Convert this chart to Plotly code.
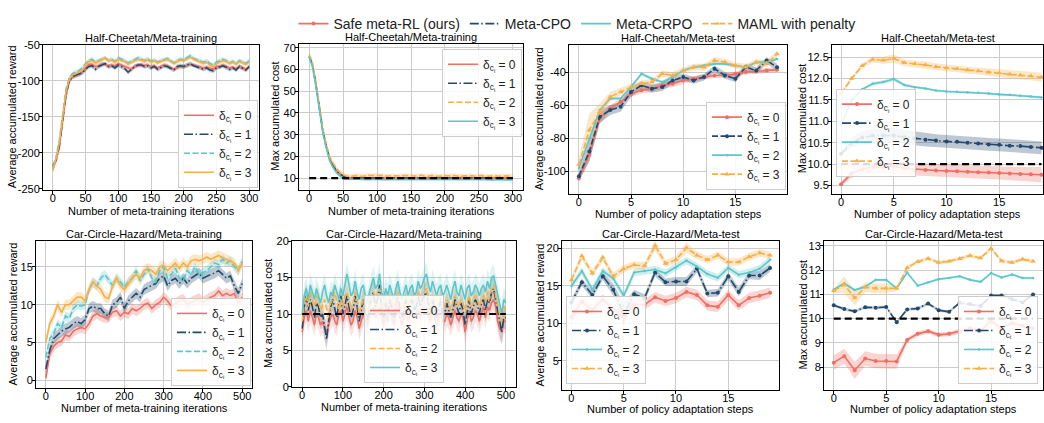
import plotly.graph_objects as go

W, H = 1044, 423
FONT = "Liberation Sans, Arial, sans-serif"

RED = "#EF6F63"
BLUE = "#234A6E"
TEAL = "#5CC6CA"
ORANGE = "#F5B04A"

DASH = "6px,2.5px"
DASHDOT = "9px,2.5px,1.5px,2.5px"

ALGOS = ["Safe meta-RL (ours)", "Meta-CPO", "Meta-CRPO", "MAML with penalty"]
DELTA_LABELS = ["δ<sub>c<sub>i</sub></sub> = 0", "δ<sub>c<sub>i</sub></sub> = 1",
                "δ<sub>c<sub>i</sub></sub> = 2", "δ<sub>c<sub>i</sub></sub> = 3"]
COST_LIMIT = 10

# ---------------- Half-Cheetah / Meta-training (x: 0..300 step 5) ----------------
hc_train_iters = list(range(0, 301, 5))
hc_train_rew_safe = [-222, -211, -192, -157, -122, -101, -95, -93, -91, -88,
                     -82, -77, -77, -80, -79, -76, -77, -80, -78, -79,
                     -76, -78, -80, -82, -84, -80, -79, -77, -79, -78,
                     -80, -79, -82, -80, -78, -79, -81, -84, -82, -80,
                     -81, -79, -77, -78, -79, -80, -82, -81, -83, -84,
                     -80, -81, -78, -80, -82, -81, -83, -80, -82, -84,
                     -81]
hc_train_rew_cpo = [-218, -210, -190, -155, -120, -100, -94, -92, -91, -89,
                    -84, -80, -79, -84, -80, -78, -76, -80, -79, -82,
                    -78, -80, -83, -88, -84, -80, -78, -78, -80, -79,
                    -82, -80, -84, -81, -79, -80, -82, -85, -80, -79,
                    -80, -78, -76, -79, -80, -82, -84, -82, -85, -86,
                    -82, -80, -79, -81, -84, -82, -85, -80, -83, -85,
                    -80]
hc_train_rew_crpo = [-220, -206, -182, -145, -112, -96, -90, -88, -86, -82,
                     -76, -72, -70, -74, -72, -70, -68, -72, -70, -73,
                     -68, -70, -72, -75, -73, -70, -68, -70, -72, -69,
                     -73, -71, -74, -72, -70, -69, -72, -75, -72, -70,
                     -71, -68, -65, -69, -71, -72, -74, -72, -76, -78,
                     -74, -72, -70, -72, -75, -73, -76, -72, -74, -76,
                     -72]
hc_train_rew_maml = [-225, -208, -186, -150, -116, -98, -92, -90, -88, -85,
                     -78, -73, -72, -75, -73, -71, -68, -72, -71, -74,
                     -70, -72, -73, -77, -75, -72, -70, -71, -73, -71,
                     -74, -72, -75, -73, -71, -70, -73, -76, -73, -71,
                     -72, -70, -67, -70, -72, -74, -76, -74, -78, -80,
                     -76, -74, -72, -73, -76, -74, -77, -73, -75, -77,
                     -74]
hc_train_rew_std = [3, 3, 3, 3]

hc_train_cost_safe = [66, 62, 53, 42, 32, 25, 19, 16, 13.5, 12,
                      11, 10.3, 10, 10.2, 10.1, 9.9, 10.2, 10, 9.8, 10,
                      10.2, 10.1, 9.9, 10, 10.2, 10.1, 9.8, 9.9, 10.1, 10,
                      9.9, 10.2, 10, 9.8, 10, 10.1, 9.9, 10, 10.2, 10,
                      9.9, 10.1, 10, 9.8, 10, 10.1, 9.9, 10, 10.2, 9.9,
                      10, 9.8, 9.9, 10.1, 10, 9.9, 10, 10.1, 9.9, 10,
                      10]
hc_train_cost_cpo = [66, 62, 53, 42, 32, 25, 19, 16, 13.3, 11.8,
                     10.8, 10.2, 10, 10, 10.1, 10, 10.2, 10, 9.9, 10,
                     10.1, 10.2, 10, 10.1, 10.2, 10, 9.9, 10, 10.1, 10,
                     10, 10.1, 10.2, 10, 10, 10.1, 10, 10.1, 10.2, 10,
                     10, 10.1, 10, 9.9, 10, 10.1, 10, 10, 10.1, 10,
                     10, 9.9, 10, 10.1, 10, 10, 10, 10.1, 10, 10,
                     10]
hc_train_cost_maml = [67, 63, 54, 43, 33, 26, 20, 17, 14.5, 12.8,
                      11.5, 11, 10.8, 11, 11.2, 11, 10.9, 11.3, 11.2, 11,
                      11.2, 11.3, 11, 10.9, 11.1, 11, 10.8, 11, 11.2, 11,
                      11.1, 11, 11.2, 11.3, 11, 10.9, 11.2, 11, 10.8, 11,
                      11.1, 10.9, 11, 11.2, 10.9, 11, 10.8, 11, 11.1, 10.9,
                      11, 11.2, 10.8, 11, 10.9, 11, 10.8, 11, 11.1, 10.9,
                      11]
hc_train_cost_crpo = [66, 61, 52, 41, 31, 24, 18, 15, 12.5, 11,
                      9.8, 9.5, 9.4, 9.5, 9.6, 9.4, 9.5, 9.3, 9.4, 9.5,
                      9.6, 9.4, 9.3, 9.5, 9.4, 9.5, 9.4, 9.3, 9.5, 9.4,
                      9.4, 9.5, 9.3, 9.4, 9.5, 9.4, 9.3, 9.4, 9.5, 9.4,
                      9.3, 9.4, 9.5, 9.4, 9.3, 9.4, 9.5, 9.4, 9.3, 9.2,
                      9.4, 9.5, 9.3, 9.4, 9.2, 9.3, 9.4, 9.3, 9.2, 9.3,
                      9.3]
hc_train_cost_std = [0.8, 0.5, 1.0, 0.5]

# ---------------- Half-Cheetah / Meta-test (x: 0..19) ----------------
adapt_steps = list(range(20))
hc_test_rew_safe = [-104.3, -90, -68, -62, -58, -53, -51, -50, -48, -47, -45, -44, -43, -42, -42, -41, -40, -39.5, -39, -38.5]
hc_test_rew_cpo = [-103, -88, -67, -63, -61, -52, -48, -50, -49, -45, -43, -45, -43, -38, -42, -44, -37, -39, -33, -37]
hc_test_rew_crpo = [-98, -80, -63, -56, -56, -49, -41, -44, -46, -43, -39, -37, -36, -35, -35, -36, -37, -34, -34, -32]
hc_test_rew_maml = [-96, -75, -64, -55, -52, -49, -47, -46, -41, -42, -39, -37, -37, -33, -34, -36, -37, -34, -35, -29]
hc_test_rew_std_safe = [2, 4, 3, 2, 2, 2, 2, 2, 2, 2, 2, 1.5, 1.5, 1.5, 1.5, 1.5, 1.5, 1.5, 1.5, 1.5]
hc_test_rew_std_cpo = [3, 6, 4, 3, 3, 3, 2.5, 2.5, 2.5, 2, 2, 2, 2, 2, 2, 2, 2, 2, 2, 2]
hc_test_rew_std_crpo = [1, 2, 1, 1, 1, 1, 1, 1, 1, 1, 1, 1, 1, 1, 1, 1, 1, 1, 1, 1]
hc_test_rew_std_maml = [4, 10, 5, 3, 2.5, 2, 2, 2, 2, 2, 2, 2, 2, 2, 2, 2, 2, 2, 2, 2]

hc_test_cost_safe = [9.53, 9.78, 9.88, 9.93, 9.93, 9.95, 9.9, 9.88, 9.86, 9.85, 9.84, 9.83, 9.82, 9.81, 9.8, 9.79, 9.78, 9.77, 9.76, 9.75]
hc_test_cost_cpo = [10.24, 10.5, 10.62, 10.66, 10.67, 10.67, 10.63, 10.6, 10.57, 10.55, 10.53, 10.52, 10.5, 10.48, 10.46, 10.45, 10.43, 10.42, 10.4, 10.38]
hc_test_cost_crpo = [10.9, 11.5, 11.75, 11.88, 11.92, 11.99, 11.85, 11.8, 11.77, 11.72, 11.7, 11.69, 11.68, 11.67, 11.65, 11.63, 11.62, 11.6, 11.58, 11.56]
hc_test_cost_maml = [11.65, 12.0, 12.3, 12.45, 12.43, 12.47, 12.37, 12.35, 12.32, 12.28, 12.25, 12.23, 12.2, 12.18, 12.15, 12.13, 12.1, 12.08, 12.06, 12.03]
hc_test_cost_std_safe = [0.05, 0.1, 0.12, 0.15, 0.15, 0.17, 0.15, 0.15, 0.15, 0.15, 0.15, 0.15, 0.15, 0.15, 0.15, 0.15, 0.16, 0.16, 0.17, 0.18]
hc_test_cost_std_cpo = [0.03, 0.12, 0.15, 0.17, 0.17, 0.18, 0.17, 0.16, 0.16, 0.15, 0.15, 0.15, 0.15, 0.15, 0.15, 0.15, 0.15, 0.15, 0.15, 0.15]
hc_test_cost_std_crpo = [0.03, 0.03, 0.03, 0.04, 0.04, 0.05, 0.04, 0.03, 0.03, 0.03, 0.03, 0.03, 0.03, 0.03, 0.03, 0.03, 0.03, 0.03, 0.03, 0.03]
hc_test_cost_std_maml = [0.05, 0.05, 0.06, 0.07, 0.08, 0.1, 0.08, 0.08, 0.08, 0.08, 0.08, 0.08, 0.08, 0.08, 0.09, 0.09, 0.09, 0.1, 0.1, 0.11]

# ---------------- Car-Circle-Hazard / Meta-training ----------------
cc_train_iters = list(range(0, 501, 10))
cc_train_rew_safe = [0.3, 3.5, 4.5, 5, 5.2, 6, 5.8, 6.5, 6.8, 7,
                     6.8, 7.5, 8.5, 8.8, 8.5, 8.3, 8.3, 9, 9.2, 8.5,
                     9, 8.8, 9.5, 9.2, 9.5, 10, 10.2, 9.5, 10, 10.3,
                     11, 10.5, 9.8, 10.2, 10.5, 10.7, 10, 10.3, 10.5, 10.8,
                     10.3, 10.7, 11, 11.2, 11.8, 11.2, 11.5, 11.2, 11.5, 10.2,
                     11]
cc_train_rew_cpo = [1.5, 4, 5.5, 6, 6.5, 6.8, 7, 7.5, 7.8, 7.5,
                    8, 9.5, 9.8, 9.5, 9.5, 8.8, 8.5, 10, 10.3, 11,
                    9.5, 10.5, 11, 11.5, 11, 12, 12.3, 12.5, 12.8, 13.5,
                    13.8, 12.5, 13.2, 13.5, 12.8, 13.5, 12.8, 13.5, 13.8, 14.2,
                    13.5, 13.8, 14, 14.2, 14.5, 14, 13.5, 13.8, 12.5, 11.5,
                    12.8]
cc_train_rew_crpo = [3, 5.5, 6.2, 7.5, 7, 8.5, 8.2, 9.5, 10, 9.8,
                     10, 12, 13, 12.5, 13.5, 14, 13.3, 12.5, 13.5, 13,
                     12.3, 13, 13.5, 14.5, 13.2, 14, 14.8, 13.5, 13, 14.5,
                     15, 13.5, 14, 14.8, 13.5, 13.2, 14.5, 14, 15, 14,
                     14.2, 14.5, 15, 15.5, 15.3, 16, 15.5, 15.8, 15, 14.5,
                     15.7]
cc_train_rew_maml = [5, 7.5, 8.5, 10, 9, 10, 10, 10.5, 11, 11,
                     10.5, 12, 13, 12.5, 12, 11, 10.8, 12.5, 13.5, 12.5,
                     12, 12.8, 13.5, 14, 13.5, 14.5, 14.8, 14.5, 14, 15,
                     15.2, 14.5, 15, 15.5, 14.8, 15.5, 15, 15.8, 16, 15.8,
                     16, 16.3, 16, 16.3, 16.5, 16.2, 16, 15.8, 15.5, 14.5,
                     15.5]
cc_train_rew_std = [0.7, 0.7, 0.6, 0.7]

cc_cost_iters = list(range(0, 501, 5))
cc_train_cost_safe = [7.5, 9.5, 10.5, 9, 10.5, 9.5, 8.5, 10, 9.5, 8.5,
                      9, 8, 7.5, 8.5, 9.5, 10, 9, 8.5, 10, 10.5,
                      9, 10, 11, 9.5, 8.5, 9, 10.5, 9.5, 8, 9,
                      10, 9, 8.5, 9.5, 10.5, 11, 9.5, 10, 11, 9.5,
                      8.5, 10, 9, 10.5, 9.5, 8.5, 10, 11, 9.5, 8.5,
                      9.5, 10.5, 9, 10, 10.5, 9.5, 9.5, 10.5, 9.5, 10.5,
                      10.5, 11, 10, 9, 10.5, 9.5, 8.5, 9.5, 10.5, 9,
                      9, 10, 9.5, 8.5, 9.5, 10.5, 9.5, 9, 10, 9.5,
                      7.5, 9, 10.5, 9, 9.5, 10.5, 10, 9, 10, 11,
                      9.5, 11, 10.5, 11.5, 12, 11, 9, 8, 7.5, 9,
                      9]
cc_train_cost_cpo = [8, 11, 12.5, 10.5, 12, 11, 9.5, 11.5, 11, 9.5,
                     10, 8, 6.5, 9, 11, 12, 10.5, 9.5, 11.5, 12.5,
                     10, 11.5, 12.5, 11, 9.5, 10.5, 12.5, 11, 9, 10.5,
                     12, 10.5, 9, 11, 12.5, 13, 11, 12, 14, 10.5,
                     9.5, 11.5, 10, 12, 11, 9.5, 11.5, 12.5, 11, 9.5,
                     10.5, 12, 10, 11.5, 12, 10.5, 11, 12.5, 11, 12,
                     12.5, 13, 11.5, 10, 12, 10.5, 9.5, 10.5, 12, 10,
                     10, 11.5, 10.5, 9.5, 10.5, 12, 11, 10, 11.5, 10.5,
                     8.5, 10.5, 12, 10, 11, 12, 11.5, 10, 11.5, 12,
                     10.5, 12, 11.5, 13, 13.5, 12, 10, 8.5, 7.5, 9.5,
                     9.5]
cc_train_cost_maml = [9, 11.5, 12.5, 11, 13, 12, 11, 12.5, 12, 10.5,
                      11, 12, 10.5, 9.5, 11.5, 12, 13, 11.5, 10.5, 12,
                      11, 12.5, 13, 12, 10.5, 11.5, 13, 12, 10, 11,
                      12, 11, 10, 11.5, 12.5, 13, 12, 12.5, 13.5, 11.5,
                      10.5, 12, 11, 12.5, 11.5, 10.5, 12, 13, 11.5, 10.5,
                      11.5, 12.5, 11, 12, 12.5, 11, 11.5, 13, 12, 12.5,
                      13, 13.5, 12, 11, 12.5, 11.5, 10.5, 11.5, 12.5, 11,
                      11, 12, 11.5, 10.5, 11.5, 12.5, 11.5, 11, 12, 11.5,
                      10.5, 11.5, 12.5, 11, 11.5, 12.5, 12, 11, 12, 12.5,
                      11.5, 13, 12, 13.5, 14, 12.5, 11, 10, 9, 11,
                      10.5]
cc_train_cost_crpo = [10, 12.5, 13.5, 12, 14, 13, 12, 13.5, 12.5, 11.5,
                      13, 14, 12.5, 11.5, 13, 12.5, 14, 13, 12, 13.5,
                      12.5, 14, 15.5, 14, 12.5, 13, 14.5, 13, 12, 13.5,
                      14, 12.5, 11.5, 13, 14, 15, 13.5, 14, 15.5, 13,
                      12, 13.5, 12.5, 14, 13, 12, 13.5, 14.5, 13, 12,
                      13, 14, 12.5, 13.5, 14, 12.5, 13, 14.5, 13.5, 14,
                      15, 15.5, 14, 13, 14.5, 13.5, 12.5, 13.5, 14, 12.5,
                      13, 14, 13, 12, 13.5, 14.5, 13, 12.5, 14, 13,
                      12, 13.5, 14, 12.5, 13, 14, 13.5, 12.5, 13.5, 14,
                      13, 14.5, 13.5, 15, 15.2, 14, 12.5, 11, 10, 12,
                      11.5]
cc_train_cost_std = [1.6, 1.6, 1.6, 1.6]

# ---------------- Car-Circle-Hazard / Meta-test (x: 0..19) ----------------
cc_test_rew_safe = [10.8, 12.9, 11.8, 13.2, 11.8, 10.9, 12.5, 12.5, 13.5, 13.0, 13.4, 14.2, 13.8, 12.4, 12.2, 13.8, 12.4, 13.4, 13.7, 14.1]
cc_test_rew_cpo = [12.8, 15.5, 13.8, 16.3, 14.5, 11.2, 13.9, 13.4, 16.8, 15.5, 15.6, 15.6, 17.3, 14.0, 14.1, 16.3, 14.2, 16.4, 16.4, 17.4]
cc_test_rew_crpo = [15.0, 17.0, 14.5, 17.0, 16.0, 13.7, 16.8, 17.0, 17.2, 16.7, 17.5, 18.4, 17.6, 16.6, 16.1, 17.4, 16.5, 16.8, 17.3, 18.5]
cc_test_rew_maml = [15.8, 19.0, 16.7, 18.8, 16.3, 17.3, 17.8, 17.7, 20.4, 18.0, 18.5, 20.1, 19.1, 18.5, 19.1, 18.2, 18.2, 18.9, 19.4, 19.1]
cc_test_rew_std_safe = [0.7] * 20
cc_test_rew_std_cpo = [0.5, 0.5, 0.5, 0.5, 0.8, 1.5, 0.6, 0.5, 0.5, 0.5, 0.6, 0.6, 0.5, 0.5, 0.5, 0.5, 0.6, 0.5, 0.6, 0.5]
cc_test_rew_std_crpo = [0.5] * 20
cc_test_rew_std_maml = [0.5, 0.5, 0.5, 0.5, 0.5, 0.5, 0.5, 0.5, 0.7, 0.5, 0.5, 0.7, 0.5, 0.5, 0.5, 0.5, 0.5, 0.5, 0.5, 0.5]

cc_test_cost_safe = [8.18, 8.45, 7.87, 8.35, 8.25, 8.25, 8.23, 9.12, 9.37, 9.48, 9.33, 9.37, 9.47, 9.6, 9.5, 9.9, 9.6, 9.82, 9.7, 9.6]
cc_test_cost_cpo = [10.55, 10.4, 10.3, 10.47, 10.45, 10.48, 9.85, 10.38, 10.42, 10.62, 10.35, 10.28, 10.65, 10.6, 10.52, 10.95, 10.95, 10.8, 10.67, 11.0]
cc_test_cost_crpo = [11.2, 11.45, 11.18, 11.32, 11.6, 11.6, 11.25, 11.9, 11.36, 11.5, 11.63, 11.68, 11.75, 11.6, 11.52, 11.88, 11.7, 11.82, 11.68, 11.68]
cc_test_cost_maml = [11.15, 11.4, 10.85, 11.3, 11.25, 11.25, 11.25, 12.1, 12.35, 12.48, 12.32, 12.37, 12.47, 12.6, 12.5, 12.9, 12.38, 12.32, 12.45, 12.37]
cc_test_cost_std_safe = [0.3, 0.3, 0.35, 0.3, 0.3, 0.3, 0.3, 0.1, 0.1, 0.1, 0.1, 0.1, 0.1, 0.1, 0.1, 0.1, 0.1, 0.1, 0.1, 0.1]
cc_test_cost_std_cpo = [0.06] * 20
cc_test_cost_std_crpo = [0.05] * 20
cc_test_cost_std_maml = [0.08, 0.35, 0.3, 0.2, 0.2, 0.2, 0.1, 0.08, 0.08, 0.08, 0.08, 0.08, 0.08, 0.08, 0.08, 0.08, 0.08, 0.08, 0.08, 0.08]

# tick labels
tick_300 = [0, 50, 100, 150, 200, 250, 300]
tick_500 = [0, 100, 200, 300, 400, 500]
tick_steps = [0, 5, 10, 15]
p1_yticks = [-250, -200, -150, -100, -50]
p1_ytext = ["-250", "-200", "-150", "-100", "-50"]
p2_yticks = [10, 20, 30, 40, 50, 60, 70]
p3_yticks = [-100, -80, -60, -40]
p3_ytext = ["-100", "-80", "-60", "-40"]
p4_yticks = [9.5, 10.0, 10.5, 11.0, 11.5, 12.0, 12.5]
p4_ytext = ["9.5", "10.0", "10.5", "11.0", "11.5", "12.0", "12.5"]
p5_yticks = [0, 5, 10, 15]
p6_yticks = [0, 5, 10, 15, 20]
p7_yticks = [5, 10, 15, 20]
p8_yticks = [8, 9, 10, 11, 12, 13]


def rgba(hexc, a):
    h = hexc.lstrip("#")
    return "rgba(%d,%d,%d,%s)" % (int(h[0:2], 16), int(h[2:4], 16), int(h[4:6], 16), a)


def as_list(std, n):
    return list(std) if isinstance(std, (list, tuple)) else [std] * n


# style per algorithm in each panel: (color, dash, (marker symbol, size) or None)
S_RED = (RED, "solid", None)
S_BLUE_DD = (BLUE, DASHDOT, None)
S_TEAL_D = (TEAL, DASH, None)
S_TEAL = (TEAL, "solid", None)
S_ORANGE = (ORANGE, "solid", None)
S_ORANGE_D = (ORANGE, DASH, None)
M_RED = (RED, "solid", ("circle", 4))
M_BLUE_D = (BLUE, DASH, ("circle", 4))
M_BLUE_DD = (BLUE, DASHDOT, ("circle", 4))
M_TEAL = (TEAL, "solid", ("circle", 2.5))
M_ORANGE = (ORANGE, DASH, ("triangle-up", 5))

panels = [
    dict(px=(43, 259), py=(40, 189), xr=[-15, 315], yr=[-251, -50], xt=tick_300, yt=p1_yticks, ytt=p1_ytext,
         title="Half-Cheetah/Meta-training", xtitle="Number of meta-training iterations",
         ytitle="Average accumulated reward", ytx=12, xty=211, x=hc_train_iters,
         series=[(hc_train_rew_safe, hc_train_rew_std[0], S_RED), (hc_train_rew_cpo, hc_train_rew_std[1], S_BLUE_DD),
                 (hc_train_rew_crpo, hc_train_rew_std[2], S_TEAL_D), (hc_train_rew_maml, hc_train_rew_std[3], S_ORANGE)],
         leg=dict(x=258, y=187, xanchor="right", yanchor="bottom"), limit=False, alpha=0.3),
    dict(px=(299, 523), py=(39, 189), xr=[-15, 315], yr=[4.7, 71.8], xt=tick_300, yt=p2_yticks, ytt=None,
         title="Half-Cheetah/Meta-training", xtitle="Number of meta-training iterations",
         ytitle="Max accumulated cost", ytx=275, xty=211, x=hc_train_iters,
         series=[(hc_train_cost_safe, hc_train_cost_std[0], S_RED), (hc_train_cost_cpo, hc_train_cost_std[1], S_BLUE_DD),
                 (hc_train_cost_maml, hc_train_cost_std[2], S_ORANGE_D), (hc_train_cost_crpo, hc_train_cost_std[3], S_TEAL)],
         leg=dict(x=522, y=44, xanchor="right", yanchor="top"), limit=True, alpha=0.3),
    dict(px=(569, 787), py=(40, 193), xr=[-0.95, 19.95], yr=[-113.5, -23.5], xt=tick_steps, yt=p3_yticks, ytt=p3_ytext,
         title="Half-Cheetah/Meta-test", xtitle="Number of policy adaptation steps",
         ytitle="Average accumulated reward", ytx=539, xty=214, x=adapt_steps,
         series=[(hc_test_rew_safe, hc_test_rew_std_safe, M_RED), (hc_test_rew_cpo, hc_test_rew_std_cpo, M_BLUE_D),
                 (hc_test_rew_crpo, hc_test_rew_std_crpo, M_TEAL), (hc_test_rew_maml, hc_test_rew_std_maml, M_ORANGE)],
         leg=dict(x=786, y=189, xanchor="right", yanchor="bottom"), limit=False, alpha=0.3),
    dict(px=(832, 1043), py=(40, 193), xr=[-0.86, 19.15], yr=[9.31, 12.79], xt=tick_steps, yt=p4_yticks, ytt=p4_ytext,
         title="Half-Cheetah/Meta-test", xtitle="Number of policy adaptation steps",
         ytitle="Max accumulated cost", ytx=802, xty=214, x=adapt_steps,
         series=[(hc_test_cost_safe, hc_test_cost_std_safe, M_RED), (hc_test_cost_cpo, hc_test_cost_std_cpo, M_BLUE_DD),
                 (hc_test_cost_crpo, hc_test_cost_std_crpo, M_TEAL), (hc_test_cost_maml, hc_test_cost_std_maml, M_ORANGE)],
         leg=dict(x=836, y=85, xanchor="left", yanchor="top"), limit=True, alpha=0.3),
    dict(px=(36, 252), py=(242, 393), xr=[-25, 525], yr=[-0.99, 18.4], xt=tick_500, yt=p5_yticks, ytt=None,
         title="Car-Circle-Hazard/Meta-training", xtitle="Number of meta-training iterations",
         ytitle="Average accumulated reward", ytx=13, xty=414, x=cc_train_iters,
         series=[(cc_train_rew_safe, cc_train_rew_std[0], S_RED), (cc_train_rew_cpo, cc_train_rew_std[1], S_BLUE_DD),
                 (cc_train_rew_crpo, cc_train_rew_std[2], S_TEAL_D), (cc_train_rew_maml, cc_train_rew_std[3], S_ORANGE)],
         leg=dict(x=251, y=391, xanchor="right", yanchor="bottom"), limit=False, alpha=0.3),
    dict(px=(292, 516), py=(242, 392), xr=[-25, 525], yr=[0, 20], xt=tick_500, yt=p6_yticks, ytt=None,
         title="Car-Circle-Hazard/Meta-training", xtitle="Number of meta-training iterations",
         ytitle="Max accumulated cost", ytx=268, xty=413, x=cc_cost_iters,
         series=[(cc_train_cost_safe, cc_train_cost_std[0], S_RED), (cc_train_cost_cpo, cc_train_cost_std[1], S_BLUE_DD),
                 (cc_train_cost_maml, cc_train_cost_std[2], S_ORANGE_D), (cc_train_cost_crpo, cc_train_cost_std[3], S_TEAL)],
         leg=dict(x=404, y=388, xanchor="center", yanchor="bottom"), limit=True, alpha=0.2),
    dict(px=(562, 779), py=(242, 395), xr=[-0.9, 19.85], yr=[1.1, 21.0], xt=tick_steps, yt=p7_yticks, ytt=None,
         title="Car-Circle-Hazard/Meta-test", xtitle="Number of policy adaptation steps",
         ytitle="Average accumulated reward", ytx=540, xty=415, x=adapt_steps,
         series=[(cc_test_rew_safe, cc_test_rew_std_safe, M_RED), (cc_test_rew_cpo, cc_test_rew_std_cpo, M_BLUE_DD),
                 (cc_test_rew_crpo, cc_test_rew_std_crpo, M_TEAL), (cc_test_rew_maml, cc_test_rew_std_maml, M_ORANGE)],
         leg=dict(x=566, y=389, xanchor="left", yanchor="bottom"), limit=False, alpha=0.3),
    dict(px=(824, 1043), py=(242, 395), xr=[-0.93, 19.95], yr=[7.06, 13.2], xt=tick_steps, yt=p8_yticks, ytt=None,
         title="Car-Circle-Hazard/Meta-test", xtitle="Number of policy adaptation steps",
         ytitle="Max accumulated cost", ytx=803, xty=415, x=adapt_steps,
         series=[(cc_test_cost_safe, cc_test_cost_std_safe, M_RED), (cc_test_cost_cpo, cc_test_cost_std_cpo, M_BLUE_DD),
                 (cc_test_cost_crpo, cc_test_cost_std_crpo, M_TEAL), (cc_test_cost_maml, cc_test_cost_std_maml, M_ORANGE)],
         leg=dict(x=1038, y=389, xanchor="right", yanchor="bottom"), limit=True, alpha=0.3),
]

fig = go.Figure()
layout = dict(width=W, height=H, margin=dict(l=0, r=0, t=0, b=0), autosize=False,
              paper_bgcolor="white", plot_bgcolor="white", font=dict(family=FONT, color="black", size=11))
annotations = []

for i, p in enumerate(panels, start=1):
    xa = "x" if i == 1 else "x%d" % i
    ya = "y" if i == 1 else "y%d" % i
    xkey = "xaxis" if i == 1 else "xaxis%d" % i
    ykey = "yaxis" if i == 1 else "yaxis%d" % i
    legname = "legend%d" % (i + 1)
    x0, x1 = p["px"]
    y0, y1 = p["py"]
    axis_common = dict(showline=True, mirror=True, linecolor="black", linewidth=1, ticks="outside",
                       ticklen=3, tickcolor="black", showgrid=True, gridcolor="#cccccc", gridwidth=1,
                       zeroline=False, tickfont=dict(size=11, family=FONT, color="black"))
    layout[xkey] = dict(domain=[x0 / W, x1 / W], range=p["xr"], anchor=ya, tickvals=p["xt"],
                        ticklabelstandoff=-5, **axis_common)
    yax = dict(domain=[1 - y1 / H, 1 - y0 / H], range=p["yr"], anchor=xa, tickvals=p["yt"],
               ticklabelstandoff=-3, **axis_common)
    if p["ytt"] is not None:
        yax["ticktext"] = p["ytt"]
    layout[ykey] = yax
    L = p["leg"]
    layout[legname] = dict(x=L["x"] / W, y=1 - L["y"] / H, xanchor=L["xanchor"], yanchor=L["yanchor"],
                           bgcolor="rgba(255,255,255,0.85)", bordercolor="#cccccc", borderwidth=1,
                           font=dict(size=12, family=FONT, color="#222222"), itemwidth=30,
                           tracegroupgap=0)
    xs = p["x"]
    # bands first
    for vals, std, (col, dash, mk) in p["series"]:
        sd = as_list(std, len(vals))
        up = [v + s for v, s in zip(vals, sd)]
        lo = [v - s for v, s in zip(vals, sd)]
        fig.add_trace(go.Scatter(x=list(xs) + list(xs)[::-1], y=up + lo[::-1], fill="toself",
                                 fillcolor=rgba(col, p["alpha"]), line=dict(width=0), mode="lines",
                                 hoverinfo="skip", showlegend=False, xaxis=xa, yaxis=ya))
    for k, (vals, std, (col, dash, mk)) in enumerate(p["series"]):
        tr = dict(x=xs, y=vals, name=DELTA_LABELS[k], legend=legname, xaxis=xa, yaxis=ya,
                  line=dict(color=col, width=1.6, dash=dash))
        if mk:
            tr["mode"] = "lines+markers"
            tr["marker"] = dict(symbol=mk[0], size=mk[1], color=col)
        else:
            tr["mode"] = "lines"
        fig.add_trace(go.Scatter(**tr))
    if p["limit"]:
        fig.add_trace(go.Scatter(x=[xs[0], xs[-1]], y=[COST_LIMIT, COST_LIMIT], mode="lines",
                                 line=dict(color="black", width=2.2, dash="7px,4px"), showlegend=False,
                                 hoverinfo="skip", xaxis=xa, yaxis=ya))
    cx = (x0 + x1) / 2 / W
    annotations.append(dict(text=p["title"], x=cx, y=1 - (y0 - 7) / H, xref="paper", yref="paper",
                            xanchor="center", yanchor="middle", showarrow=False,
                            font=dict(size=11, family=FONT, color="black")))
    annotations.append(dict(text=p["xtitle"], x=cx, y=1 - p["xty"] / H, xref="paper", yref="paper",
                            xanchor="center", yanchor="middle", showarrow=False,
                            font=dict(size=11, family=FONT, color="black")))
    annotations.append(dict(text=p["ytitle"], x=p["ytx"] / W, y=1 - (y0 + y1) / 2 / H, xref="paper", yref="paper",
                            xanchor="center", yanchor="middle", showarrow=False, textangle=-90,
                            font=dict(size=11, family=FONT, color="black")))

# top legend with algorithm names
top_styles = [(RED, "solid", "circle"), (BLUE, DASHDOT, None), (TEAL, "solid", None), (ORANGE, DASH, "triangle-up")]
for name, (col, dash, mk) in zip(ALGOS, top_styles):
    tr = dict(x=[None], y=[None], name=name, legend="legend", xaxis="x", yaxis="y",
              line=dict(color=col, width=1.8, dash=dash))
    if mk:
        tr["mode"] = "lines+markers"
        tr["marker"] = dict(symbol=mk, size=4, color=col)
    else:
        tr["mode"] = "lines"
    fig.add_trace(go.Scatter(**tr))

layout["legend"] = dict(orientation="h", x=577 / W, y=1 - 2 / H, xanchor="center", yanchor="top",
                        font=dict(size=14, family=FONT, color="#222222"), bgcolor="rgba(0,0,0,0)",
                        itemwidth=30)
layout["annotations"] = annotations
layout["showlegend"] = True
fig.update_layout(**layout)
fig.write_html("out.html")
